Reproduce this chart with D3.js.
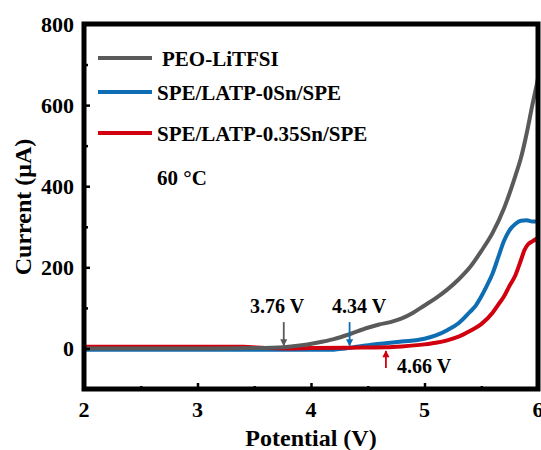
<!DOCTYPE html>
<html>
<head>
<meta charset="utf-8">
<script src="https://cdn.jsdelivr.net/npm/d3@7"></script>
<style>
  body { margin: 0; background: #fff; }
  text { font-family: "Liberation Serif", "Times New Roman", serif; font-weight: bold; fill: #000; }
</style>
</head>
<body>
<script>
var width = 541,
    height = 450;

// data (potential in V, current in uA)
var peoV = [2.0, 3.0, 3.5, 3.76, 3.9, 4.05, 4.2, 4.34, 4.5, 4.6, 4.7, 4.8, 4.9, 5.0, 5.1, 5.2, 5.3, 5.4, 5.5, 5.6, 5.7, 5.8, 5.85, 5.9, 5.95, 6.0];
var peoI = [0, 0, 1, 3, 7, 14, 23, 35, 51, 59, 65, 74, 88, 106, 124, 145, 170, 200, 240, 285, 345, 425, 470, 530, 600, 665];

var latpV = [2.0, 3.0, 4.0, 4.2, 4.3, 4.4, 4.55, 4.7, 4.8, 5.0, 5.1, 5.2, 5.3, 5.4, 5.45, 5.5, 5.55, 5.6, 5.65, 5.7, 5.75, 5.8, 5.85, 5.9, 5.95, 6.0];
var latpI = [-3, -3, -3, -3, 0, 4, 10, 14, 17, 24, 32, 45, 62, 90, 105, 128, 155, 185, 225, 265, 292, 307, 315, 316, 313, 313];

var snV = [2.0, 3.0, 3.4, 3.6, 3.8, 4.0, 4.34, 4.66, 4.8, 5.0, 5.1, 5.2, 5.3, 5.4, 5.5, 5.6, 5.65, 5.7, 5.75, 5.8, 5.85, 5.88, 5.91, 5.95, 6.0];
var snI = [4, 4, 4, 1, 0, 1, 2, 3, 5, 10, 14, 20, 29, 43, 60, 88, 108, 128, 155, 180, 218, 242, 256, 264, 272];

var seriesNames = ["PEO-LiTFSI", "SPE/LATP-0Sn/SPE", "SPE/LATP-0.35Sn/SPE"];
var seriesColors = ["#5a5a5a", "#0f6db3", "#d0000f"];

var xTicks = [2, 3, 4, 5, 6];
var yTicks = [0, 200, 400, 600, 800];

var onsetV = [3.76, 4.34, 4.66];
var onsetLabels = ["3.76 V", "4.34 V", "4.66 V"];

var svg = d3.select("body").append("svg")
    .attr("width", width)
    .attr("height", height);

var x = d3.scaleLinear().domain([2, 6]).range([84, 538]);
var y = d3.scaleLinear().domain([-100, 800]).range([389, 24]);

svg.append("clipPath").attr("id", "plot")
    .append("rect")
    .attr("x", 84).attr("y", 24)
    .attr("width", 454).attr("height", 365);

var line = d3.line()
    .x(function (d) { return x(d[0]); })
    .y(function (d) { return y(d[1]); })
    .curve(d3.curveMonotoneX);

var series = [
    { name: seriesNames[0], color: seriesColors[0], pts: d3.zip(peoV, peoI) },
    { name: seriesNames[1], color: seriesColors[1], pts: d3.zip(latpV, latpI) },
    { name: seriesNames[2], color: seriesColors[2], pts: d3.zip(snV, snI) }
];

var curves = svg.append("g").attr("clip-path", "url(#plot)");
// blue at the back, then red, gray on top
[1, 2, 0].forEach(function (k) {
    curves.append("path")
        .datum(series[k].pts)
        .attr("fill", "none")
        .attr("stroke", series[k].color)
        .attr("stroke-width", 4)
        .attr("d", line);
});

// axes, ticks inward
var xAxis = d3.axisBottom(x)
    .tickValues(d3.range(2, 6.01, 0.5))
    .tickSize(-4)
    .tickFormat("");
var gx = svg.append("g").attr("transform", "translate(0,389)").call(xAxis);
gx.selectAll(".tick line")
    .attr("stroke-width", 2.5)
    .attr("y2", function (d) { return d % 1 === 0 ? -6 : -3; });
gx.select(".domain").remove();

var yAxis = d3.axisLeft(y)
    .tickValues(d3.range(0, 801, 100))
    .tickSize(-4)
    .tickFormat("");
var gy = svg.append("g").attr("transform", "translate(84,0)").call(yAxis);
gy.selectAll(".tick line")
    .attr("stroke-width", 2.5)
    .attr("x2", function (d) { return d % 200 === 0 ? 6 : 4; });
gy.select(".domain").remove();

svg.selectAll(".xlab").data(xTicks).enter().append("text")
    .attr("x", function (d) { return x(d); })
    .attr("y", 417)
    .attr("text-anchor", "middle")
    .attr("font-size", 22)
    .text(function (d) { return d; });

svg.selectAll(".ylab").data(yTicks).enter().append("text")
    .attr("x", 74)
    .attr("y", function (d) { return y(d) + 8; })
    .attr("text-anchor", "end")
    .attr("font-size", 22)
    .text(function (d) { return d; });

// frame
svg.append("rect")
    .attr("x", 84).attr("y", 24)
    .attr("width", 454).attr("height", 365)
    .attr("fill", "none")
    .attr("stroke", "#000")
    .attr("stroke-width", 5);

svg.append("text")
    .attr("x", 311).attr("y", 446)
    .attr("text-anchor", "middle")
    .attr("font-size", 24)
    .text("Potential (V)");

svg.append("text")
    .attr("transform", "translate(31,207) rotate(-90)")
    .attr("text-anchor", "middle")
    .attr("font-size", 24)
    .text("Current (\u03bcA)");

// legend
var legY = [58, 92, 133];
var legTextX = [162, 157, 157];
series.forEach(function (s, i) {
    svg.append("line")
        .attr("x1", 98).attr("x2", 152)
        .attr("y1", legY[i]).attr("y2", legY[i])
        .attr("stroke", s.color)
        .attr("stroke-width", 4);
    svg.append("text")
        .attr("x", legTextX[i])
        .attr("y", legY[i] + 8)
        .attr("font-size", 21)
        .text(s.name);
});

svg.append("text")
    .attr("x", 157).attr("y", 185)
    .attr("font-size", 21)
    .text("60 \u00b0C");

// onset arrows: shaft ends given as current values
var arrowTail = [65, 65, -48];
var arrowTip = [7, 7, -6];
var labelPos = [[250, 313], [332, 313], [397, 373]];

svg.append("defs").selectAll("marker")
    .data(seriesColors).enter().append("marker")
    .attr("id", function (d, i) { return "arr" + i; })
    .attr("viewBox", "0 0 10 10")
    .attr("refX", 9).attr("refY", 5)
    .attr("markerWidth", 5).attr("markerHeight", 4)
    .attr("orient", "auto")
    .append("path")
    .attr("d", "M0,0 L10,5 L0,10 Z")
    .attr("fill", function (d) { return d; });

onsetV.forEach(function (v, i) {
    svg.append("line")
        .attr("x1", x(v)).attr("x2", x(v))
        .attr("y1", y(arrowTail[i]))
        .attr("y2", y(arrowTip[i]))
        .attr("stroke", seriesColors[i])
        .attr("stroke-width", 1.8)
        .attr("marker-end", "url(#arr" + i + ")");
    svg.append("text")
        .attr("x", labelPos[i][0]).attr("y", labelPos[i][1])
        .attr("font-size", 20)
        .text(onsetLabels[i]);
});
</script>
</body>
</html>
